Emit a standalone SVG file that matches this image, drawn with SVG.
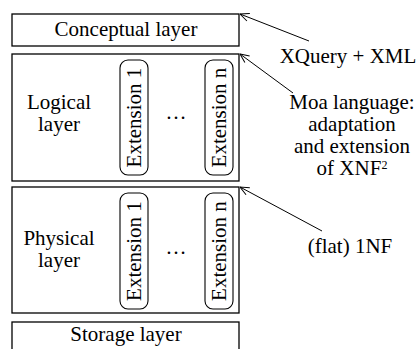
<svg xmlns="http://www.w3.org/2000/svg" width="418" height="349" viewBox="0 0 418 349">
<defs>
<style>
text{font-family:"Liberation Serif","Times New Roman",serif;font-size:21px;fill:#000}
.box{fill:#fff;stroke:#000;stroke-width:1.3}
.pill{fill:none;stroke:#000;stroke-width:1.1}
.c{text-anchor:middle}
.conn line{stroke:#000;stroke-width:1}
</style>
<marker id="ah" viewBox="0 0 10 10" refX="10" refY="5" markerWidth="10" markerHeight="10" markerUnits="userSpaceOnUse" orient="auto">
<path d="M1,1 L10,5 L1,9" fill="none" stroke="#000" stroke-width="1"/>
</marker>
</defs>
<rect width="418" height="349" fill="#fff"/>
<g id="conceptual">
<rect class="box" x="12" y="14" width="227" height="32"/>
<text class="c" x="126" y="36">Conceptual layer</text>
</g>
<g id="logical">
<rect class="box" x="12" y="54" width="227" height="127"/>
<text class="c" x="59" y="109">Logical</text>
<text class="c" x="59" y="131">layer</text>
<g id="logical-ext1">
<rect class="pill" x="120" y="60" width="28" height="115" rx="8"/>
<text class="c" transform="translate(141,117.5) rotate(-90)">Extension 1</text>
</g>
<text class="c" x="176" y="119">…</text>
<g id="logical-extn">
<rect class="pill" x="205" y="60" width="28" height="115" rx="8"/>
<text class="c" transform="translate(226,117.5) rotate(-90)">Extension n</text>
</g>
</g>
<g id="physical">
<rect class="box" x="12" y="187" width="227" height="126"/>
<text class="c" x="59" y="245">Physical</text>
<text class="c" x="59" y="267">layer</text>
<g id="physical-ext1">
<rect class="pill" x="120" y="193" width="28" height="116" rx="8"/>
<text class="c" transform="translate(141,251) rotate(-90)">Extension 1</text>
</g>
<text class="c" x="176" y="254">…</text>
<g id="physical-extn">
<rect class="pill" x="205" y="193" width="28" height="116" rx="8"/>
<text class="c" transform="translate(226,251) rotate(-90)">Extension n</text>
</g>
</g>
<g id="storage">
<rect class="box" x="12" y="322" width="227" height="40"/>
<text class="c" x="126" y="341">Storage layer</text>
</g>
<g id="label-xquery">
<text class="c" x="348" y="63">XQuery + XML</text>
</g>
<g id="label-moa">
<text class="c" x="352" y="109">Moa language:</text>
<text class="c" x="352" y="131">adaptation</text>
<text class="c" x="352" y="153">and extension</text>
<text class="c" x="352" y="175">of XNF<tspan font-size="12" dy="-6">2</tspan></text>
</g>
<g id="label-1nf">
<text class="c" x="350" y="253">(flat) 1NF</text>
</g>
<g class="conn" id="connectors">
<line x1="309" y1="41" x2="240" y2="14" marker-end="url(#ah)"/>
<line x1="293" y1="93" x2="240" y2="54" marker-end="url(#ah)"/>
<line x1="322" y1="231" x2="240" y2="187" marker-end="url(#ah)"/>
</g>
</svg>
